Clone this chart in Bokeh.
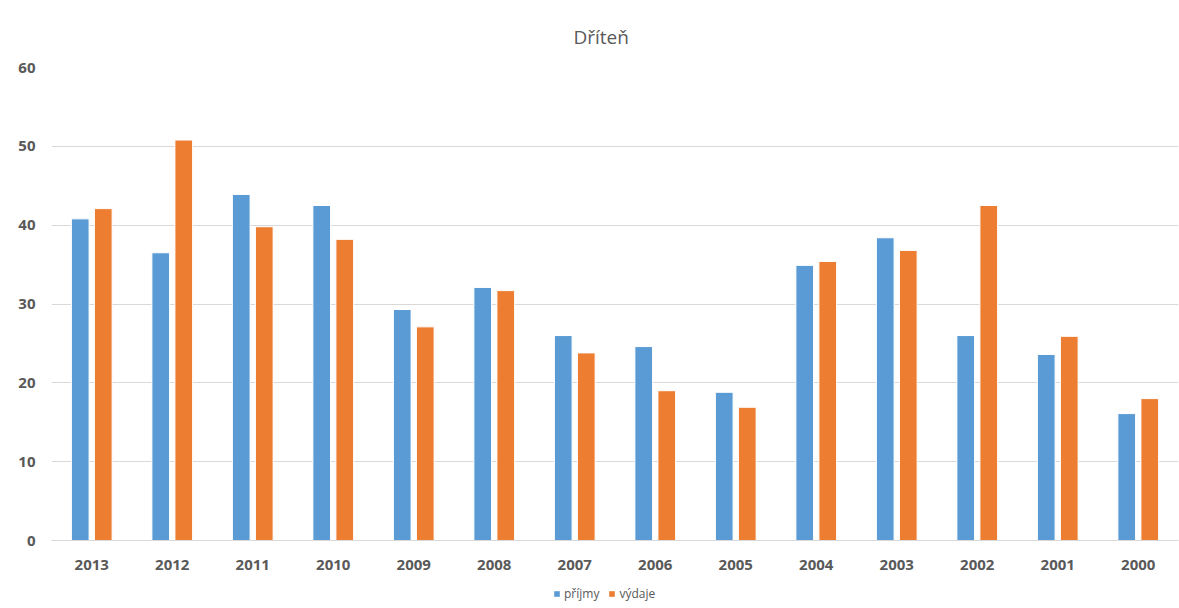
from bokeh.plotting import figure
from bokeh.layouts import column
from bokeh.models import ColumnDataSource, FactorRange, Range1d, FixedTicker, Legend, LegendItem
from bokeh.transform import dodge
from bokeh.embed import file_html
from bokeh.resources import INLINE

years = ["2013", "2012", "2011", "2010", "2009", "2008", "2007",
         "2006", "2005", "2004", "2003", "2002", "2001", "2000"]
prijmy = [40.8, 36.5, 43.9, 42.5, 29.3, 32.1, 26.0, 24.6, 18.8, 34.9, 38.4, 26.0, 23.6, 16.1]
vydaje = [42.1, 50.8, 39.8, 38.2, 27.1, 31.7, 23.8, 19.0, 16.9, 35.4, 36.8, 42.5, 25.9, 18.0]
y_ticks = [0, 10, 20, 30, 40, 50, 60]
series_names = ["příjmy", "výdaje"]
series_cols = ["prijmy", "vydaje"]
colors = ["#5b9bd5", "#ed7d31"]
offsets = [-0.143, 0.143]

src = ColumnDataSource(dict(year=years, prijmy=prijmy, vydaje=vydaje))
xr = FactorRange(*years)

p = figure(width=1179, height=576, x_range=xr, y_range=Range1d(0, 60),
           output_backend="svg", toolbar_location=None,
           min_border_left=51, min_border_right=1, min_border_top=67, min_border_bottom=36)

p.title.text = "Dříteň"
p.title.align = "left"
p.title.offset = 522
p.title.standoff = 35
p.title.text_font = "Open Sans"
p.title.text_font_size = "19px"
p.title.text_font_style = "normal"
p.title.text_color = "#595959"

p.outline_line_color = None
p.xgrid.grid_line_color = None
p.ygrid.grid_line_color = "#d9d9d9"
p.ygrid.grid_line_width = 1

p.yaxis.ticker = FixedTicker(ticks=y_ticks)
for ax in (p.xaxis[0], p.yaxis[0]):
    ax.major_tick_line_color = None
    ax.minor_tick_line_color = None
    ax.major_label_text_font = "Open Sans"
    ax.major_label_text_font_size = "15px"
    ax.major_label_text_font_style = "bold"
    ax.major_label_text_color = "#595959"
p.yaxis.axis_line_color = None
p.yaxis.major_label_standoff = 10
p.xaxis.axis_line_color = "#d9d9d9"
p.xaxis.major_label_standoff = 13

w = 0.22
for col, c, off in zip(series_cols, colors, offsets):
    p.vbar(x=dodge("year", off, range=xr), top=col, width=w, source=src,
           fill_color=c, line_color="white", line_width=1)

# legend strip below the chart (same bars, drawn out of view, used as legend proxies)
lf = figure(width=1179, height=32, x_range=xr, y_range=Range1d(100, 101),
            output_backend="svg", toolbar_location=None,
            x_axis_location=None, y_axis_location=None,
            min_border_left=51, min_border_right=1, min_border_top=0, min_border_bottom=0)
lf.outline_line_color = None
lf.grid.grid_line_color = None
items = []
for name, col, c, off in zip(series_names, series_cols, colors, offsets):
    r = lf.vbar(x=dodge("year", off, range=xr), top=col, width=w, source=src,
                fill_color=c, line_color=None)
    items.append(LegendItem(label=name, renderers=[r]))

legend = Legend(items=items, orientation="horizontal", location=(502, 6))
legend.label_text_font = "Open Sans"
legend.label_text_font_size = "12px"
legend.label_text_color = "#595959"
legend.glyph_width = 7
legend.glyph_height = 7
legend.label_standoff = 4
legend.spacing = 9
legend.padding = 4
legend.margin = 0
legend.border_line_color = None
legend.background_fill_alpha = 0
lf.add_layout(legend, "center")

layout = column(p, lf, spacing=0)
open("out.html", "w").write(file_html(layout, INLINE))
